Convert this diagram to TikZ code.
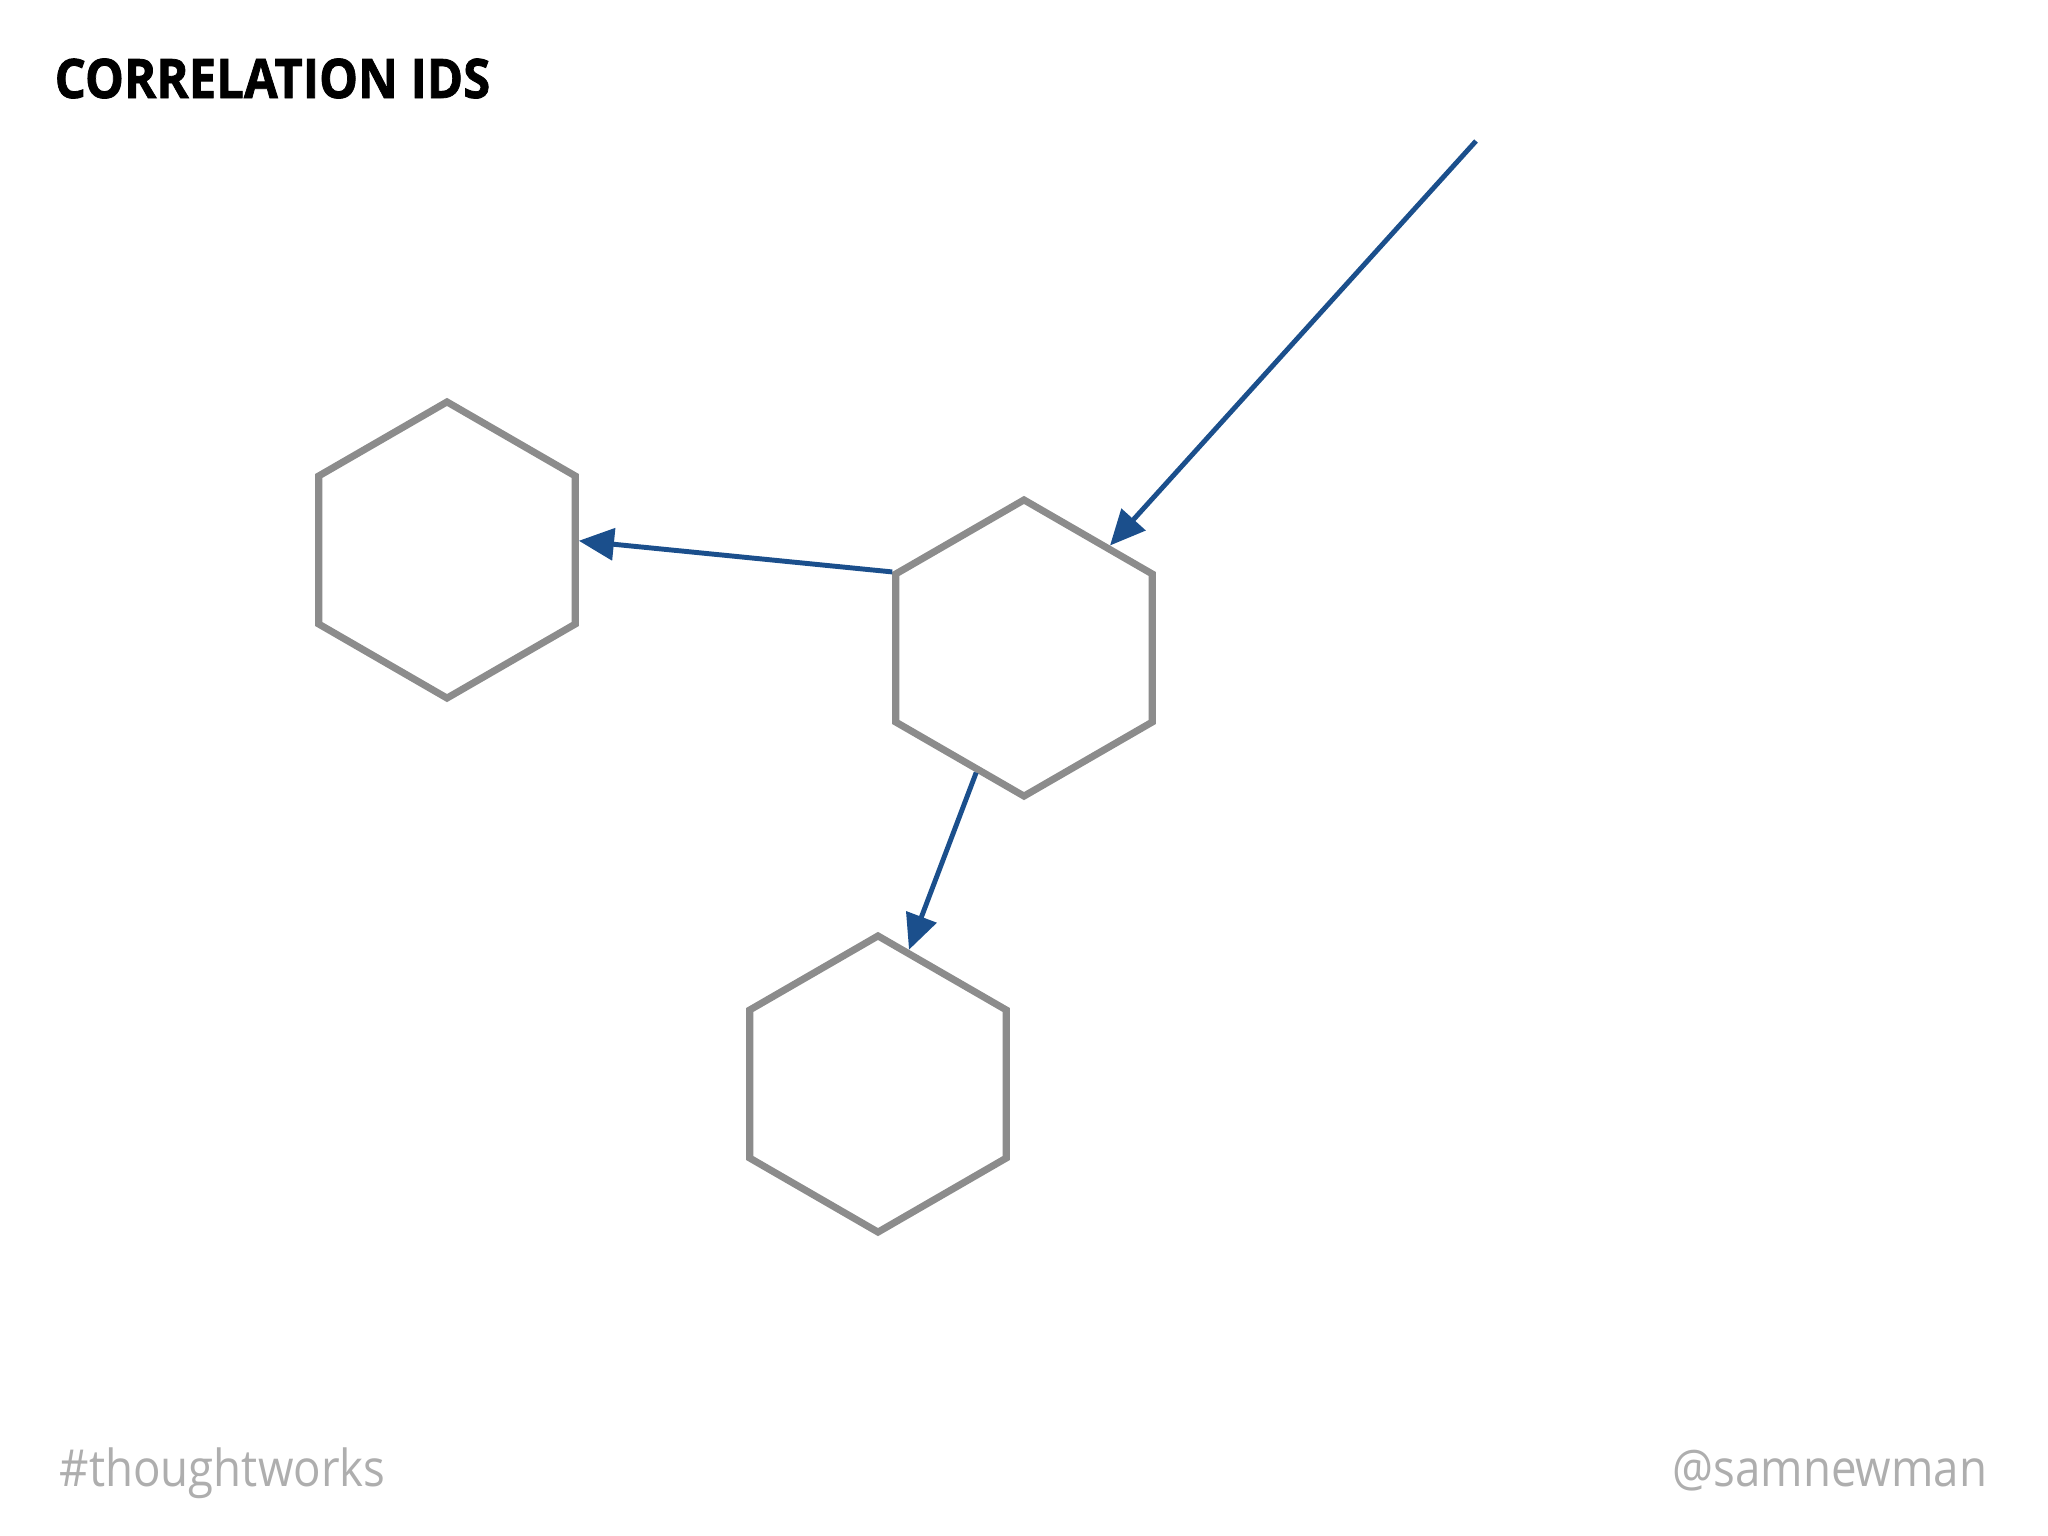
\documentclass[tikz,border=0pt]{standalone}
\usepackage{fontspec}
\setmainfont{Open Sans}
\newfontfamily\titlefont{Open Sans}[BoldFeatures={FakeBold=1.5}]
\usetikzlibrary{shapes.geometric,arrows.meta}
\definecolor{hexgray}{HTML}{8C8C8C}
\definecolor{callblue}{HTML}{1B4F8C}
\definecolor{footgray}{HTML}{AEAEAE}

\begin{document}
\begin{tikzpicture}[x=0.01cm, y=-0.01cm,
  >={Triangle[length=10pt,width=9pt]},
  svc/.style={draw=hexgray, line width=2pt, regular polygon, regular polygon sides=6,
    shape border rotate=90, minimum size=2.96cm, inner sep=0pt},
  call/.style={->, draw=callblue, line width=1.4pt},
  foot/.style={font=\fontsize{14.5}{17}\selectfont, text=footgray, inner sep=0pt}]
  \useasboundingbox (0,0) rectangle (2048,1536);

  % Title
  \node[anchor=base west, font=\fontsize{15.5}{18}\titlefont\bfseries, inner sep=0pt]
    (title) at (54,98) {\scalebox{0.9}[1]{CORRELATION IDS}};

  % Services
  \node[svc] (left) at (447,550) {};
  \node[svc] (mid) at (1024,648) {};
  \node[svc] (bot) at (878,1084) {};

  % Incoming request
  \coordinate (src) at (1476,141);

  % Calls
  \draw[call] (src) -- (mid.50);
  \draw[call] (mid.150) -- (left.4);
  \draw[call] (mid.249) -- (bot.77);

  % Footer
  \node[foot, anchor=base west] (tag) at (59,1486) {\scalebox{0.895}[1]{\#thoughtworks}};
  \node[foot, anchor=base east] (handle) at (1988,1486) {\scalebox{0.895}[1]{@samnewman}};
\end{tikzpicture}
\end{document}
